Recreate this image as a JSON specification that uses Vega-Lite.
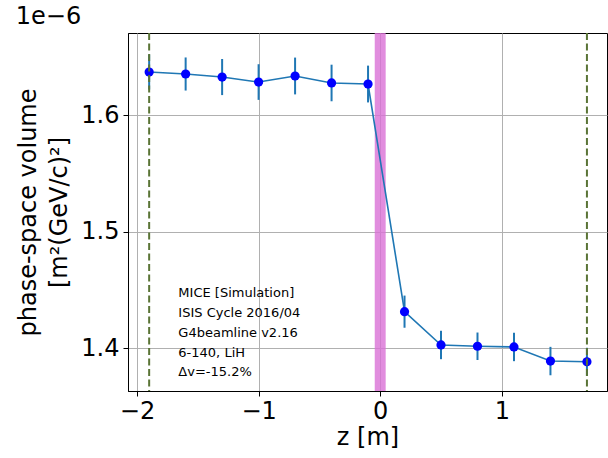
{
  "$schema": "https://vega.github.io/schema/vega-lite/v6.json",
  "autosize": {"type": "none"},
  "padding": {"left": 128, "top": 33, "right": 1, "bottom": 67},
  "width": 479,
  "height": 358,
  "title": {"text": "1e−6", "anchor": "start", "fontSize": 24, "font": "DejaVu Sans", "fontWeight": "normal", "offset": 3, "dx": -1, "color": "black"},
  "config": {
    "font": "DejaVu Sans",
    "view": {"stroke": "black", "strokeWidth": 1},
    "axis": {
      "gridColor": "#b0b0b0", "gridWidth": 1, "domainColor": "black", "tickColor": "black",
      "tickSize": 5, "labelFontSize": 24, "labelColor": "black", "titleFontSize": 24,
      "titleFontWeight": "normal", "titleColor": "black", "labelFont": "DejaVu Sans", "titleFont": "DejaVu Sans"
    }
  },
  "data": {"values": [
    {"z": -1.9, "v": 1.6369, "err": 0.015},
    {"z": -1.6, "v": 1.6352, "err": 0.0142},
    {"z": -1.3, "v": 1.6326, "err": 0.0155},
    {"z": -1.0, "v": 1.6283, "err": 0.0153},
    {"z": -0.7, "v": 1.6335, "err": 0.0158},
    {"z": -0.4, "v": 1.6275, "err": 0.0157},
    {"z": -0.1, "v": 1.6266, "err": 0.0158},
    {"z": 0.2, "v": 1.4312, "err": 0.0138},
    {"z": 0.5, "v": 1.4026, "err": 0.0122},
    {"z": 0.8, "v": 1.4015, "err": 0.0118},
    {"z": 1.1, "v": 1.4009, "err": 0.0122},
    {"z": 1.4, "v": 1.3888, "err": 0.0122},
    {"z": 1.7, "v": 1.3882, "err": 0.012}
  ]},
  "layer": [
    {
      "data": {"values": [{"a": -0.045, "b": 0.045}]},
      "mark": {"type": "rect", "color": "orchid", "opacity": 0.8},
      "encoding": {
        "x": {"field": "a", "type": "quantitative", "scale": {"domain": [-2.074, 1.865], "nice": false, "zero": false},
              "axis": {"values": [-2, -1, 0, 1], "format": "d", "title": "z [m]", "titlePadding": 2, "labelPadding": 3}},
        "x2": {"field": "b"}
      }
    },
    {
      "mark": {"type": "errorbar", "color": "#1f77b4", "thickness": 2},
      "encoding": {
        "x": {"field": "z", "type": "quantitative"},
        "y": {"field": "v", "type": "quantitative", "scale": {"domain": [1.3631, 1.6704], "nice": false, "zero": false},
              "axis": {"values": [1.4, 1.5, 1.6], "format": ".1f", "title": ["phase-space volume", "[m²(GeV/c)²]"], "titlePadding": 9, "titleLineHeight": 31, "labelPadding": 4}},
        "yError": {"field": "err"}
      }
    },
    {
      "mark": {"type": "line", "color": "#1f77b4", "strokeWidth": 1.6},
      "encoding": {
        "x": {"field": "z", "type": "quantitative"},
        "y": {"field": "v", "type": "quantitative"}
      }
    },
    {
      "mark": {"type": "point", "filled": true, "color": "#0000ff", "size": 85, "opacity": 1},
      "encoding": {
        "x": {"field": "z", "type": "quantitative"},
        "y": {"field": "v", "type": "quantitative"}
      }
    },
    {
      "data": {"values": [{"z": -1.9}, {"z": 1.7}]},
      "mark": {"type": "rule", "color": "#5a7436", "strokeWidth": 2, "strokeDash": [7, 3.5]},
      "encoding": {"x": {"field": "z", "type": "quantitative"}}
    },
    {
      "data": {"values": [
        {"z": -1.66, "v": 1.4472, "t": "MICE [Simulation]"},
        {"z": -1.66, "v": 1.4300, "t": "ISIS Cycle 2016/04"},
        {"z": -1.66, "v": 1.4129, "t": "G4beamline v2.16"},
        {"z": -1.66, "v": 1.3957, "t": "6-140, LiH"},
        {"z": -1.66, "v": 1.3794, "t": "Δv=-15.2%"}
      ]},
      "mark": {"type": "text", "align": "left", "baseline": "middle", "fontSize": 13, "color": "black", "font": "DejaVu Sans"},
      "encoding": {
        "x": {"field": "z", "type": "quantitative"},
        "y": {"field": "v", "type": "quantitative"},
        "text": {"field": "t"}
      }
    }
  ]
}
